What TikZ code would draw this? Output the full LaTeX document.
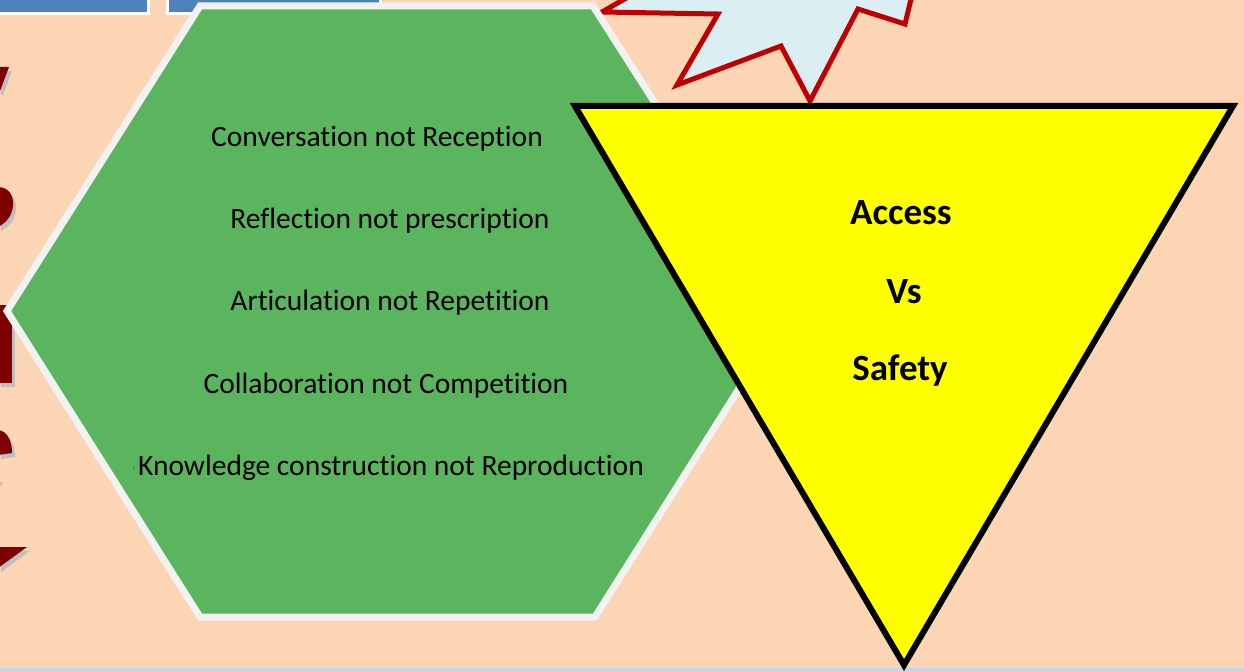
\documentclass[tikz,border=0pt]{standalone}
\usepackage{fontspec}
\setmainfont{Carlito}[RawFeature=-liga]
\usepackage{tikz}
\usetikzlibrary{positioning}

\definecolor{peach}{HTML}{FCD5B5}
\definecolor{stripblue}{HTML}{C9D6EA}
\definecolor{boxblue}{HTML}{4F81BD}
\definecolor{darkred}{HTML}{7F0000}
\definecolor{shadowgray}{HTML}{BFBFBF}
\definecolor{burstfill}{HTML}{DAEEF3}
\definecolor{burstred}{HTML}{C00000}
\definecolor{hexgreen}{HTML}{5AB55E}
\definecolor{hexwhite}{HTML}{F2F2F2}
\definecolor{hexshadow}{HTML}{B98472}
\definecolor{triyellow}{HTML}{FFFF00}

\begin{document}
\begin{tikzpicture}[
      x=1pt, y=-1pt,
      topbox/.style = {fill=boxblue, draw=white, line width=3pt},
      burst/.style = {fill=burstfill, draw=burstred, line width=5pt, line join=miter},
      hexbody/.style = {fill=hexgreen, draw=hexwhite, line width=7pt, line join=miter},
      tribody/.style = {fill=triyellow, draw=black, line width=6pt, line join=miter},
      hexline/.style = {font=\fontsize{29.5}{35}\selectfont, inner sep=0pt},
      triline/.style = {font=\bfseries\fontsize{37}{44}\selectfont, inner sep=0pt}
    ]
    \useasboundingbox (0,0) rectangle (1244,671);
    \clip (0,0) rectangle (1244,671);

    % background
    \fill[peach] (0,0) rectangle (1244,671);
    \fill[stripblue] (0,668) rectangle (1244,671);

    % boxes along the top edge
    \draw[topbox] (-10,-10) rectangle (148,14);
    \draw[topbox] (167,-10) rectangle (380,14);

    % pieces of the big letters at the left edge (shadow first)
    \foreach \dx/\dy/\col in {3/4/shadowgray, 0/0/darkred}{
      \begin{scope}[shift={(\dx,\dy)}]
        \fill[\col] (-2,67) -- (9,67) -- (0,91) -- (-2,91) -- cycle;
        \fill[\col] (-2,187) .. controls (9,187) and (14,196) .. (13,206)
                    .. controls (12,216) and (6,223) .. (-2,227) -- cycle;
        \fill[\col] (-2,305) rectangle (12,383);
        \fill[\col] (-2,430) .. controls (7,431) and (12,440) .. (12,453)
                    -- (-2,455) -- cycle;
        \fill[\col] (-2,547) -- (27,547) -- (-2,568) -- cycle;
      \end{scope}
    }
    \fill[shadowgray] (-2,481) -- (3,483) -- (-2,488) -- cycle;

    % burst at the top
    \filldraw[burst] (675,-30) -- (602,12) -- (718,14) -- (677,85) -- (781,46)
      -- (810,101) -- (858,9) -- (905,24) -- (918,-30) -- cycle;

    % hexagon
    \coordinate (hexW)  at (7,311);
    \coordinate (hexNW) at (200,6);
    \coordinate (hexNE) at (593,6);
    \coordinate (hexE)  at (788,311);
    \coordinate (hexSE) at (595,617);
    \coordinate (hexSW) at (200,617);
    \fill[hexshadow, shift={(3,4)}] (hexW) -- (hexNW) -- (hexNE) -- (hexE)
      -- (hexSE) -- (hexSW) -- cycle;
    \filldraw[hexbody] (hexW) -- (hexNW) -- (hexNE) -- (hexE)
      -- (hexSE) -- (hexSW) -- cycle;

    \foreach \name/\x/\y/\txt in {
        conv/377/139/Conversation not Reception,
        refl/390/221/Reflection not prescription,
        artic/390/303/Articulation not Repetition,
        collab/386/386/Collaboration not Competition,
        know/391/468/Knowledge construction not Reproduction}{
      \node[hexline] (\name) at (\x,\y) {\txt};
    }
    \node[font=\fontsize{6}{7}\selectfont, inner sep=0pt, left=3pt of know.west]
      (knowmark) {:};

    % triangle
    \coordinate (triNW) at (575,106);
    \coordinate (triNE) at (1233,106);
    \coordinate (triS)  at (904,665);
    \filldraw[tribody] (triNW) -- (triNE) -- (triS) -- cycle;

    \node[triline] (access) at (901,213) {Access};
    \node[triline] (vs)     at (904,292) {Vs};
    \node[triline] (safety) at (900,371) {Safety};
  \end{tikzpicture}
\end{document}
